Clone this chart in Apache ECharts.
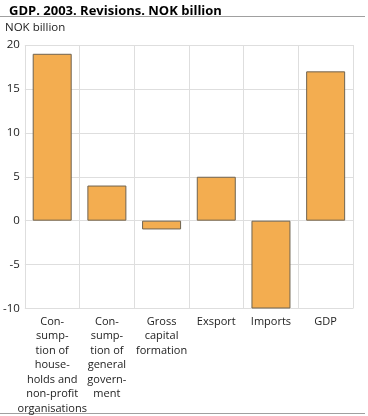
<!DOCTYPE html>
<html><head><meta charset="utf-8">
<script src="https://cdn.jsdelivr.net/npm/echarts@6/dist/echarts.min.js"></script>
<style>html,body{margin:0;padding:0;background:#fff}#c{width:368px;height:416px}</style>
</head><body><div id="c"></div>
<script>
const titleText = 'GDP. 2003. Revisions. NOK billion';
const unitText = 'NOK billion';
const categories = ['Con-\nsump-\ntion of\nhouse-\nholds and\nnon-profit\norganisations', 'Con-\nsump-\ntion of\ngeneral\ngovern-\nment', 'Gross\ncapital\nformation', 'Exsport', 'Imports', 'GDP'];
const values = [19, 4, -1, 5, -10, 17];
const yMin = -10, yMax = 20, yStep = 5;

const FONT = '"Open Sans", sans-serif';
const chart = echarts.init(document.getElementById('c'), null, {renderer: 'canvas'});
chart.setOption({
  animation: false,
  title: {text: titleText, left: 4, top: 0, textStyle: {fontFamily: FONT, fontSize: 13, fontWeight: 'bold', color: '#000'}},
  graphic: [
    {type: 'line', shape: {x1: 0, y1: 16.5, x2: 365, y2: 16.5}, style: {stroke: '#a0a0a0', lineWidth: 1}},
    {type: 'line', shape: {x1: 0, y1: 413.5, x2: 365, y2: 413.5}, style: {stroke: '#a0a0a0', lineWidth: 1}},
    {type: 'text', left: 5, top: 22, style: {text: unitText, font: '11.5px ' + FONT, fill: '#222'}}
  ],
  grid: {left: 23, right: 15, top: 45, bottom: 107, containLabel: false},
  xAxis: {
    type: 'category', data: categories,
    axisLine: {show: false}, axisTick: {show: false},
    splitLine: {show: true, interval: 0, lineStyle: {color: '#dedede', width: 1}},
    axisLabel: {interval: 0, fontFamily: FONT, fontSize: 11, color: '#222', lineHeight: 14.5, margin: 6}
  },
  yAxis: {
    type: 'value', min: yMin, max: yMax, interval: yStep,
    axisLine: {show: false}, axisTick: {show: false},
    splitLine: {show: true, lineStyle: {color: '#dedede', width: 1}},
    axisLabel: {fontFamily: FONT, fontSize: 11.5, color: '#222', margin: 5}
  },
  series: [{
    type: 'bar', data: values, barWidth: 39,
    itemStyle: {color: '#f3ad50', borderColor: '#6f6350', borderWidth: 1}
  }]
});
</script></body></html>
